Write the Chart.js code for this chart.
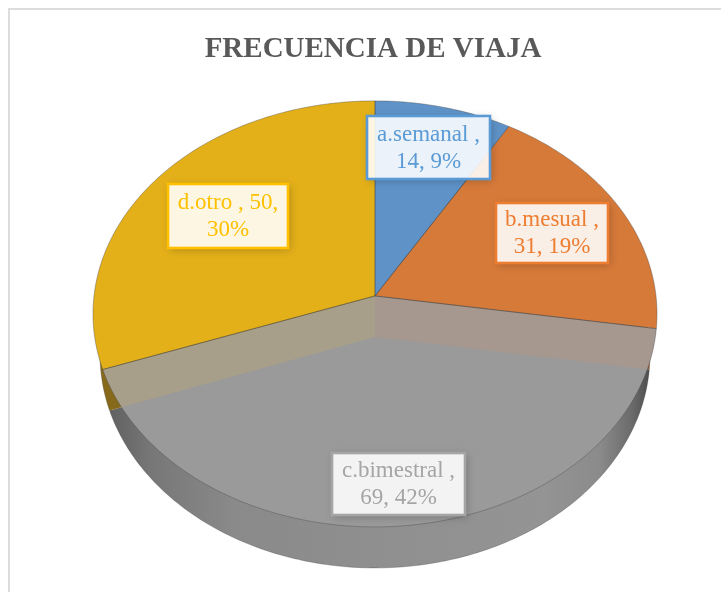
<!DOCTYPE html>
<html>
<head>
<meta charset="utf-8">
<style>html,body{margin:0;padding:0;background:#fff}canvas{display:block}</style>
<script src="https://cdn.jsdelivr.net/npm/chart.js@4/dist/chart.umd.min.js"></script>
</head>
<body>
<canvas id="c" width="721" height="592"></canvas>
<script>
const categories = ['a.semanal', 'b.mesual', 'c.bimestral', 'd.otro'];
const values = [14, 31, 69, 50];
const faceColors = ['#5f93c8', '#d67a3a', '#9a9a9a', '#e3b01a'];
const wallColors = ['#3f6a94', '#94552a', '#8c8c8c', '#86691a'];
const textColors = ['#5b9bd5', '#ed7d31', '#a5a5a5', '#ffc000'];
const lineBreaks = [2, 2, 2, 3];
const title = 'FRECUENCIA DE VIAJA';

// label boxes (left, top, right, bottom)
const boxes = [[367,116,490,179],[496,203,608,263],[332,453,465,515],[168,184,288,248]];

const K = -0.0845, AX = 1.441, BY = 1.0846, DEPTH = 41 / 195, XSHRINK = 0.975, HUB_SHIFT = 2;

function project(el, theta, r, z) {
  const u = r * Math.cos(theta), v = r * Math.sin(theta);
  const R = el.outerRadius, d = 1 + K * v;
  return {
    x: el.x + HUB_SHIFT + AX * R * u / d * (z ? XSHRINK : 1),
    y: el.y + BY * R * v / d + (z ? DEPTH * R : 0)
  };
}
function slicePath(ctx, el, z) {
  ctx.beginPath();
  let p = project(el, 0, 0, z);
  ctx.moveTo(p.x, p.y);
  const n = Math.max(6, Math.ceil((el.endAngle - el.startAngle) * 60));
  for (let i = 0; i <= n; i++) {
    const t = el.startAngle + (el.endAngle - el.startAngle) * i / n;
    p = project(el, t, 1, z);
    ctx.lineTo(p.x, p.y);
  }
  ctx.closePath();
}

const pie3d = {
  id: 'pie3d',
  beforeDraw(chart) {
    const ctx = chart.ctx;
    ctx.save();
    ctx.fillStyle = '#fff';
    ctx.fillRect(0, 0, chart.width, chart.height);
    ctx.fillStyle = '#dcdcdc';
    ctx.fillRect(8, 8, chart.width - 8, 2);
    ctx.fillRect(8, 8, 2, chart.height - 8);
    ctx.restore();
  },
  beforeDatasetDraw(chart, args) {
    const ctx = chart.ctx, els = chart.getDatasetMeta(args.index).data;
    ctx.save();
    // side wall
    const grad = ctx.createLinearGradient(95, 0, 655, 0);
    [[0,'#585858'],[.03,'#626262'],[.1,'#777'],[.25,'#8a8a8a'],[.5,'#8f8f8f'],[.8,'#949494'],[.9,'#8b8b8b'],[.96,'#6a6a6a'],[1,'#444']]
      .forEach(s => grad.addColorStop(s[0], s[1]));
    els.forEach((el, i) => {
      slicePath(ctx, el, 1);
      ctx.fillStyle = i === 2 ? grad : wallColors[i];
      ctx.fill();
    });
    // rim of the wall
    ctx.beginPath();
    for (let i = 0; i <= 360; i++) {
      const p = project(els[0], i * Math.PI / 180, 1, 1);
      i ? ctx.lineTo(p.x, p.y) : ctx.moveTo(p.x, p.y);
    }
    ctx.closePath();
    ctx.strokeStyle = 'rgba(60,60,60,.3)';
    ctx.lineWidth = 1;
    ctx.stroke();
    // faces
    els.forEach((el, i) => {
      slicePath(ctx, el, 0);
      ctx.fillStyle = faceColors[i];
      ctx.fill();
    });
    // inner walls seen through the grey face
    const c = els[2];
    ctx.save();
    slicePath(ctx, c, 0);
    ctx.clip();
    const hub0 = project(c, 0, 0, 0), hub1 = project(c, 0, 0, 1);
    [[c.endAngle, 'rgba(190,170,110,.36)'], [c.startAngle, 'rgba(190,150,120,.34)']].forEach(s => {
      const a0 = project(c, s[0], 1, 0), a1 = project(c, s[0], 1, 1);
      ctx.beginPath();
      ctx.moveTo(hub0.x, hub0.y);
      ctx.lineTo(a0.x, a0.y);
      ctx.lineTo(a1.x, a1.y);
      ctx.lineTo(hub1.x, hub1.y);
      ctx.closePath();
      ctx.fillStyle = s[1];
      ctx.fill();
    });
    ctx.restore();
    // outlines
    els.forEach(el => {
      slicePath(ctx, el, 0);
      ctx.strokeStyle = 'rgba(70,70,70,.38)';
      ctx.lineWidth = 1;
      ctx.stroke();
    });
    ctx.restore();
    return false;
  },
  afterDraw(chart) {
    const ctx = chart.ctx;
    const total = values.reduce((a, b) => a + b, 0);
    ctx.save();
    categories.forEach((cat, i) => {
      const pct = Math.round(values[i] / total * 100);
      const words = `${cat} , ${values[i]}, ${pct}%`.split(' ');
      const lines = [words.slice(0, lineBreaks[i]).join(' '), words.slice(lineBreaks[i]).join(' ')];
      const [l, t, r, b] = boxes[i];
      // soft shadow only outside the translucent box
      ctx.save();
      ctx.beginPath();
      ctx.rect(0, 0, chart.width, chart.height);
      ctx.rect(l, t, r - l, b - t);
      ctx.clip('evenodd');
      ctx.shadowColor = 'rgba(0,0,0,.22)';
      ctx.shadowBlur = 8;
      ctx.shadowOffsetX = 2;
      ctx.shadowOffsetY = 2;
      ctx.fillStyle = '#fff';
      ctx.fillRect(l, t, r - l, b - t);
      ctx.restore();
      ctx.fillStyle = 'rgba(255,255,255,.88)';
      ctx.fillRect(l, t, r - l, b - t);
      ctx.strokeStyle = textColors[i];
      ctx.lineWidth = 2.6;
      ctx.strokeRect(l, t, r - l, b - t);
      ctx.fillStyle = textColors[i];
      ctx.font = '23px "Liberation Serif"';
      ctx.textAlign = 'center';
      ctx.textBaseline = 'middle';
      const mx = (l + r) / 2, my = (t + b) / 2;
      ctx.fillText(lines[0], mx, my - 13);
      ctx.fillText(lines[1], mx, my + 14);
    });
    ctx.restore();
  }
};

new Chart(document.getElementById('c'), {
  type: 'pie',
  data: {
    labels: categories,
    datasets: [{ data: values, backgroundColor: faceColors, borderWidth: 0 }]
  },
  options: {
    responsive: false,
    animation: false,
    layout: { padding: { left: 178, right: 153, top: 0, bottom: 101 } },
    plugins: {
      legend: { display: false },
      tooltip: { enabled: false },
      title: {
        display: true,
        text: title,
        color: '#595959',
        font: { family: '"Liberation Serif"', size: 29, weight: 'bold', lineHeight: 1.2 },
        padding: { top: 32, bottom: 34 }
      }
    }
  },
  plugins: [pie3d]
});
</script>
</body>
</html>
